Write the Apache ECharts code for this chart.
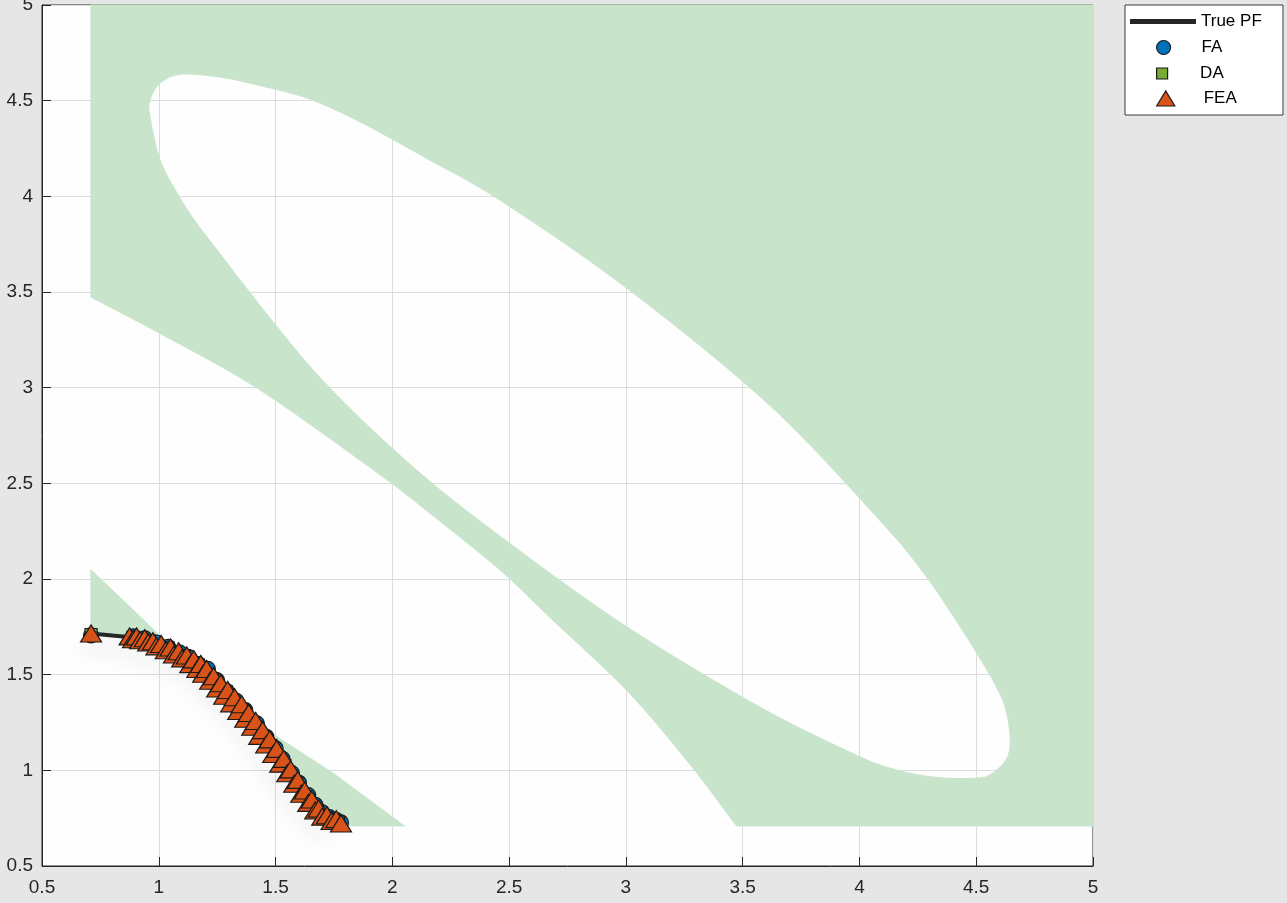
<!DOCTYPE html>
<html>
<head>
<meta charset="utf-8">
<title>Feasible region and Pareto fronts</title>
<script src="https://cdn.jsdelivr.net/npm/echarts@6/dist/echarts.min.js"></script>
<style>
  html, body { margin: 0; padding: 0; background: #e6e6e6; }
  #main { width: 1287px; height: 903px; }
</style>
</head>
<body>
<div id="main"></div>
<script>
// true pareto front
const pfX = [0.71, 0.80, 0.88, 0.95, 1.00, 1.05, 1.10, 1.15, 1.20, 1.25, 1.30, 1.35, 1.40, 1.45, 1.50, 1.55, 1.60, 1.65, 1.70, 1.74, 1.78];
const pfY = [1.715, 1.705, 1.695, 1.68, 1.655, 1.63, 1.60, 1.565, 1.515, 1.45, 1.39, 1.325, 1.255, 1.175, 1.095, 1.005, 0.915, 0.83, 0.765, 0.735, 0.72];

// FA (circles)
const faX = [0.71, 0.89, 0.94, 0.99, 1.04, 1.09, 1.13, 1.17, 1.21, 1.25, 1.29, 1.33, 1.37, 1.42, 1.46, 1.50, 1.53, 1.57, 1.60, 1.64, 1.67, 1.70, 1.73, 1.76, 1.78];
const faY = [1.705, 1.70, 1.69, 1.668, 1.645, 1.615, 1.59, 1.555, 1.53, 1.47, 1.415, 1.365, 1.315, 1.245, 1.175, 1.115, 1.06, 0.985, 0.935, 0.87, 0.82, 0.78, 0.755, 0.74, 0.728];

// DA (squares)
const daX = [0.71, 0.89, 0.96, 1.04, 1.11, 1.17, 1.23, 1.29, 1.36, 1.42, 1.48, 1.54, 1.59, 1.64, 1.68, 1.72, 1.77];
const daY = [1.71, 1.695, 1.675, 1.64, 1.60, 1.55, 1.48, 1.41, 1.31, 1.225, 1.13, 1.025, 0.935, 0.845, 0.79, 0.75, 0.725];

// FEA (triangles)
const feaX = [0.71, 0.875, 0.89, 0.905, 0.92, 0.94, 0.955, 0.975, 0.99, 1.01, 1.03, 1.05, 1.065, 1.085, 1.10, 1.12, 1.135, 1.15, 1.165, 1.18, 1.19, 1.205, 1.22, 1.235, 1.25, 1.265, 1.28, 1.295, 1.31, 1.325, 1.34, 1.355, 1.37, 1.385, 1.40, 1.415, 1.43, 1.445, 1.46, 1.475, 1.49, 1.505, 1.52, 1.535, 1.55, 1.565, 1.58, 1.595, 1.61, 1.625, 1.64, 1.655, 1.67, 1.685, 1.70, 1.72, 1.74, 1.76, 1.78];
const feaY = [1.715, 1.70, 1.685, 1.70, 1.68, 1.69, 1.668, 1.675, 1.648, 1.66, 1.628, 1.642, 1.605, 1.622, 1.585, 1.60, 1.555, 1.58, 1.53, 1.556, 1.505, 1.53, 1.468, 1.492, 1.428, 1.455, 1.39, 1.42, 1.35, 1.382, 1.31, 1.345, 1.27, 1.30, 1.228, 1.258, 1.18, 1.21, 1.135, 1.162, 1.085, 1.112, 1.035, 1.06, 0.985, 1.005, 0.93, 0.95, 0.878, 0.895, 0.83, 0.848, 0.79, 0.80, 0.758, 0.765, 0.735, 0.745, 0.722];

// feasible region: outer boundary (top, right, bottom, then the curved lower-left edge)
const regionOuter = [[0.71, 5], [5, 5], [5, 0.71], [3.475, 0.71], [3.261, 1.053], [3.004, 1.419], [2.688, 1.785], [2.448, 2.062], [2.075, 2.428], [1.904, 2.585], [1.42, 3.0], [1.005, 3.285], [0.71, 3.474]];
// infeasible hole (tilted ellipse)
const regionHole = [[0.962, 4.503], [1.005, 4.592], [1.091, 4.639], [1.262, 4.624], [1.463, 4.571], [1.66, 4.503], [1.874, 4.383], [2.161, 4.19], [2.461, 3.981], [3.004, 3.521], [3.616, 2.909], [4.087, 2.308], [4.289, 2.01], [4.503, 1.613], [4.614, 1.367], [4.644, 1.194], [4.635, 1.069], [4.571, 0.985], [4.503, 0.959], [4.314, 0.964], [4.13, 1.011], [3.959, 1.095], [3.574, 1.33], [3.004, 1.749], [2.499, 2.188], [2.088, 2.585], [1.66, 3.092], [1.206, 3.787], [1.078, 4.017], [1.005, 4.19], [0.962, 4.415]];
// small feasible strip above the front
const regionSmall = [[0.71, 2.046], [0.89, 1.837], [0.99, 1.72], [1.506, 1.174], [1.746, 0.985], [2.05, 0.71], [1.78, 0.71]];

const GREEN = '#c8e5cc';
const FONT = '"Liberation Sans", Arial, sans-serif';

const pairs = (xs, ys) => xs.map((x, i) => [x, ys[i]]);
const fmt = (p) => p[0].toFixed(1) + ' ' + p[1].toFixed(1);

function linePath(pts){
  return pts.map((p, i) => (i ? 'L' : 'M') + fmt(p)).join(' ');
}

// catmull-rom segment between b and c as a cubic
function crSeg(a, b, c, d){
  const c1 = [b[0] + (c[0] - a[0]) / 6, b[1] + (c[1] - a[1]) / 6];
  const c2 = [c[0] - (d[0] - b[0]) / 6, c[1] - (d[1] - b[1]) / 6];
  return ' C' + fmt(c1) + ' ' + fmt(c2) + ' ' + fmt(c);
}

// continues a path from pts[0] along a smooth curve
function smoothOpen(pts){
  const n = pts.length;
  let d = '';
  for(let i = 0; i < n - 1; i++){
    d += crSeg(pts[Math.max(i - 1, 0)], pts[i], pts[i + 1], pts[Math.min(i + 2, n - 1)]);
  }
  return d;
}

function smoothClosed(pts){
  const n = pts.length;
  let d = 'M' + fmt(pts[0]);
  for(let i = 0; i < n; i++){
    d += crSeg(pts[(i - 1 + n) % n], pts[i], pts[(i + 1) % n], pts[(i + 2) % n]);
  }
  return d + ' Z';
}

function renderRegion(params, api){
  const px = (list) => list.map(p => api.coord(p));
  let d;
  if(params.dataIndex === 0){
    const outer = px(regionOuter);
    // hole goes the other way round so it stays empty
    d = linePath(outer.slice(0, 4)) + smoothOpen(outer.slice(3)) + ' Z ' +
        smoothClosed(px(regionHole).reverse());
  }
  else{
    d = linePath(px(regionSmall.concat(pairs(pfX, pfY).reverse()))) + ' Z';
  }
  return {
    type: 'path',
    shape: { pathData: d },
    style: { fill: GREEN, stroke: GREEN, lineWidth: 1.2 }
  };
}

const axisCommon = {
  type: 'value',
  min: 0.5,
  max: 5,
  interval: 0.5,
  axisLine: { show: true, onZero: false, lineStyle: { color: '#262626', width: 1 } },
  axisTick: { show: true, inside: true, length: 9, lineStyle: { color: '#262626', width: 1 } },
  axisLabel: { color: '#262626', fontSize: 19, fontFamily: FONT },
  splitLine: { show: true, lineStyle: { color: '#dcdcdc', width: 1 } }
};

// symbol legends come out ~26px left of the line legend, so they start further right
const legendRows = [
  { name: 'True PF', left: 1130, top: 13, icon: 'rect', h: 5 },
  { name: 'FA', left: 1156, top: 39, icon: 'circle', h: 14 },
  { name: 'DA', left: 1156, top: 65, icon: 'path://M0,0L10,0L10,10L0,10Z', h: 11 },
  { name: 'FEA', left: 1156, top: 90, icon: 'path://M0,14L8.5,0L17,14Z', h: 15 }
];

const markerEdge = { borderColor: '#1a1a1a', borderWidth: 1.2, opacity: 1 };

const option = {
  backgroundColor: '#e6e6e6',
  animation: false,
  grid: {
    left: 42, right: 194, top: 5, bottom: 37,
    outerBoundsMode: 'none',
    show: true,
    backgroundColor: '#fefefe',
    borderColor: '#262626',
    borderWidth: 1
  },
  xAxis: Object.assign({}, axisCommon, {
    axisLabel: Object.assign({}, axisCommon.axisLabel, { margin: 12 })
  }),
  yAxis: Object.assign({}, axisCommon, {
    axisLabel: Object.assign({}, axisCommon.axisLabel, { margin: 9 })
  }),
  graphic: [{
    type: 'rect',
    z: 0,
    shape: { x: 1125, y: 5, width: 158, height: 110 },
    style: { fill: '#ffffff', stroke: '#3c3c3c', lineWidth: 1 }
  }],
  legend: legendRows.map(r => ({
    data: [{ name: r.name, icon: r.icon }],
    left: r.left,
    top: r.top,
    padding: 0,
    itemWidth: 66,
    itemHeight: r.h,
    symbolKeepAspect: true,
    selectedMode: false,
    itemStyle: r.name === 'True PF' ? { borderWidth: 0 } : markerEdge,
    textStyle: { fontSize: 17, color: '#000', fontFamily: FONT }
  })),
  series: [
    {
      name: 'region',
      type: 'custom',
      silent: true,
      z: 1,
      data: [regionOuter[0], regionSmall[0]],
      renderItem: renderRegion
    },
    {
      name: 'True PF',
      type: 'line',
      z: 3,
      showSymbol: false,
      data: pairs(pfX, pfY),
      itemStyle: { color: '#262626' },
      lineStyle: {
        color: '#262626', width: 4,
        shadowColor: 'rgba(0,0,0,0.2)', shadowBlur: 22, shadowOffsetX: -10, shadowOffsetY: 12
      }
    },
    {
      name: 'FA',
      type: 'scatter',
      z: 4,
      symbol: 'circle',
      symbolSize: 15,
      data: pairs(faX, faY),
      itemStyle: Object.assign({ color: '#0072bd' }, markerEdge)
    },
    {
      name: 'DA',
      type: 'scatter',
      z: 5,
      symbol: 'rect',
      symbolSize: 12,
      data: pairs(daX, daY),
      itemStyle: Object.assign({ color: '#77ac30' }, markerEdge)
    },
    {
      name: 'FEA',
      type: 'scatter',
      z: 6,
      symbol: 'triangle',
      symbolSize: [21, 17],
      data: pairs(feaX, feaY),
      itemStyle: Object.assign({ color: '#d95319' }, markerEdge)
    }
  ]
};

const chart = echarts.init(document.getElementById('main'));
chart.setOption(option);
</script>
</body>
</html>
